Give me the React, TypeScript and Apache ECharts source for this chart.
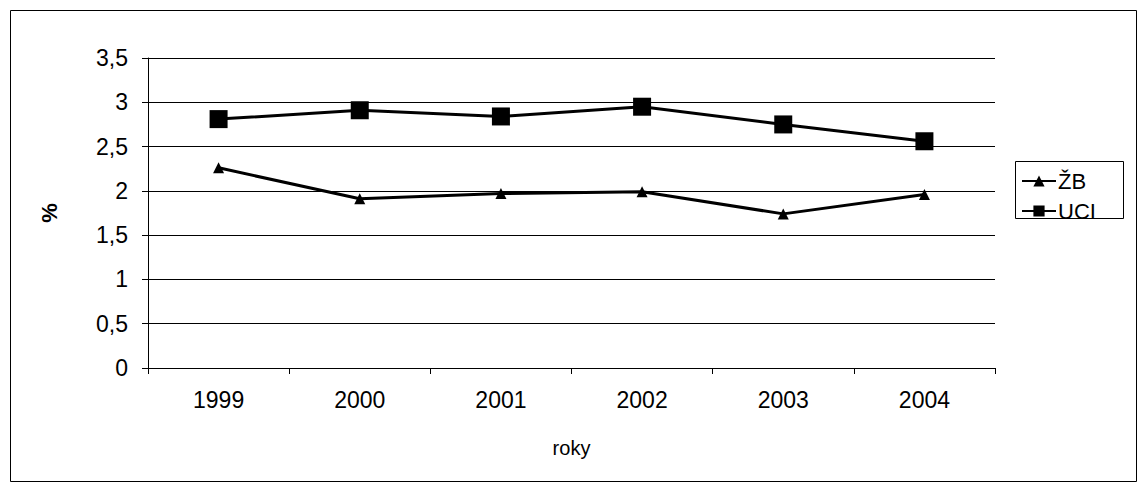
import { useEffect, useRef } from 'react'
import * as echarts from 'echarts'

const years = ['1999', '2000', '2001', '2002', '2003', '2004']
const zbValues = [2.26, 1.91, 1.97, 1.99, 1.74, 1.96]
const uciValues = [2.81, 2.91, 2.84, 2.95, 2.75, 2.56]

const App = () => {
  const ref = useRef<HTMLDivElement>(null)

  useEffect(() => {
    document.body.style.margin = '0'
    if (!ref.current) return
    const chart = echarts.init(ref.current, null, { renderer: 'svg' })
    const font = 'Arial, "Liberation Sans", sans-serif'
    chart.setOption({
      animation: false,
      textStyle: { fontFamily: font },
      graphic: [
        { type: 'rect', shape: { x: 10.5, y: 10.5, width: 1126, height: 471 }, style: { fill: 'none', stroke: '#000', lineWidth: 1 } },
        { type: 'rect', shape: { x: 1015.5, y: 161.5, width: 108, height: 57 }, style: { fill: 'none', stroke: '#000', lineWidth: 1 } },
      ],
      grid: { left: 148, right: 151, top: 58, bottom: 124 },
      legend: {
        orient: 'vertical',
        left: 1016,
        top: 165,
        itemGap: 8,
        itemWidth: 34,
        itemHeight: 14,
        textStyle: { fontSize: 22, color: '#000', fontFamily: font, padding: [0, 0, 0, -3] },
        data: ['ŽB', 'UCI'],
      },
      xAxis: {
        type: 'category',
        data: years,
        boundaryGap: true,
        name: 'roky',
        nameLocation: 'middle',
        nameGap: 70,
        nameTextStyle: { fontSize: 20, color: '#000' },
        axisLine: { lineStyle: { color: '#000' } },
        axisTick: { show: true, length: 6, lineStyle: { color: '#000' } },
        axisLabel: { fontSize: 23, color: '#000', margin: 20 },
      },
      yAxis: {
        type: 'value',
        min: 0,
        max: 3.5,
        interval: 0.5,
        name: '%',
        nameLocation: 'middle',
        nameGap: 88,
        nameRotate: 90,
        nameTextStyle: { fontSize: 22, color: '#000', fontWeight: 'bold' },
        axisLine: { show: true, lineStyle: { color: '#000' } },
        axisTick: { show: true, length: 6, lineStyle: { color: '#000' } },
        axisLabel: { fontSize: 23, color: '#000', margin: 20, formatter: (v: number) => String(v).replace('.', ',') },
        splitLine: { lineStyle: { color: '#000', width: 1 } },
      },
      series: [
        {
          name: 'ŽB',
          type: 'line',
          data: zbValues,
          symbol: 'triangle',
          symbolSize: 11,
          lineStyle: { color: '#000', width: 3 },
          itemStyle: { color: '#000' },
        },
        {
          name: 'UCI',
          type: 'line',
          data: uciValues,
          symbol: 'rect',
          symbolSize: 18,
          lineStyle: { color: '#000', width: 3 },
          itemStyle: { color: '#000' },
        },
      ],
    })
    return () => chart.dispose()
  }, [])

  return <div ref={ref} style={{ width: '1146px', height: '492px', background: '#fff' }} />
}

export default App
